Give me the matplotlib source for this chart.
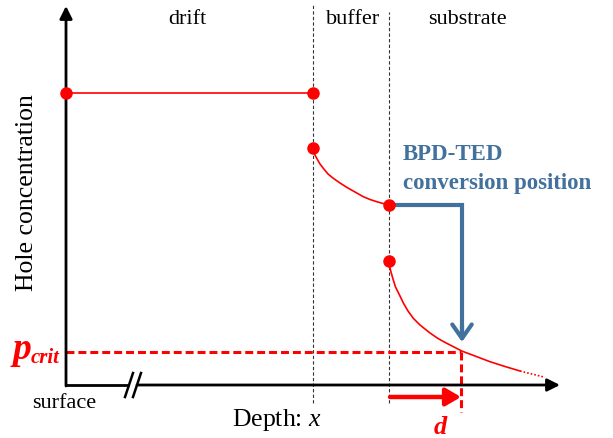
import numpy as np
import matplotlib
matplotlib.use("Agg")
import matplotlib.pyplot as plt

# =========================
# 1. DATA (schematic units: depth / hole concentration)
# =========================
drift_x = [0, 247]
drift_y = [292, 292]

buffer_x = [247, 248.5, 250.7, 254, 257.3, 262, 267.3, 274, 280.7, 289,
            297.3, 304, 310.7, 317, 323]
buffer_y = [237, 231, 226.7, 221, 216.7, 211, 206.7, 202, 197.7, 193,
            188.3, 185.5, 183.3, 181.5, 180]

sub_x = [323, 323.5, 325, 327, 329.5, 333.5, 337.5, 342, 347.3, 354, 364,
         372, 380.7, 389, 395.7, 409, 424, 439, 454]
sub_y = [124, 119, 113, 106, 98, 90, 81.7, 74, 66.7, 60, 52,
         46.5, 41.7, 37.5, 34, 29, 23.3, 18.5, 14]
sub_tail_x = [454, 479]
sub_tail_y = [14, 7.7]

dot_x = [0, 247, 247, 323, 323]
dot_y = [292, 292, 237, 180, 124]

boundaries = [247, 323]
region_names = ["drift", "buffer", "substrate"]
region_x = [121, 287, 401]

p_crit = 33
d_depth = 395
conversion_x = 323
conversion_y = 180

# =========================
# 2. FIGURE
# =========================
plt.rcParams['font.family'] = ['Liberation Serif', 'DejaVu Serif']
plt.rcParams['mathtext.fontset'] = 'custom'
plt.rcParams['mathtext.rm'] = 'Liberation Serif'
plt.rcParams['mathtext.it'] = 'Liberation Serif:italic'

fig = plt.figure(figsize=(6.13, 4.38), dpi=100)
ax = fig.add_axes([0, 0, 1, 1])
ax.set_xlim(-66, 547)
ax.set_ylim(-53, 385)
ax.axis('off')

red = '#FF0000'
blue = '#41719C'

# axes with arrows
ax.annotate('', xy=(0, 379), xytext=(0, -1),
            arrowprops=dict(arrowstyle='-|>,head_length=0.5,head_width=0.25',
                            color='black', lw=2, mutation_scale=15,
                            shrinkA=0, shrinkB=0))
ax.plot([-1, 63], [0, 0], color='black', lw=2, solid_capstyle='butt')
ax.annotate('', xy=(494, 0), xytext=(71, 0),
            arrowprops=dict(arrowstyle='-|>,head_length=0.5,head_width=0.25',
                            color='black', lw=2, mutation_scale=15,
                            shrinkA=0, shrinkB=0))
# axis break
for bx in [63, 71]:
    ax.plot([bx - 4, bx + 4], [-12, 12], color='black', lw=1.8)

# region boundaries
ax.plot([boundaries[0]] * 2, [-18, 380], color='#333333', lw=0.8, dashes=(3, 2))
ax.plot([boundaries[1]] * 2, [-18, 373], color='#333333', lw=0.8, dashes=(3, 2))

for name, rx in zip(region_names, region_x):
    ax.text(rx, 366, name, fontsize=16, ha='center', va='center')

# =========================
# 3. HOLE CONCENTRATION PROFILE
# =========================
ax.plot(drift_x, drift_y, color=red, lw=1.2)
ax.plot(buffer_x, buffer_y, color=red, lw=1.2)
ax.plot(sub_x, sub_y, color=red, lw=1.2)
ax.plot(sub_tail_x, sub_tail_y, color=red, lw=1.2, dashes=(1, 1.2))
ax.plot(dot_x, dot_y, 'o', color=red, markersize=8, zorder=5)

# p_crit and d
ax.plot([0, d_depth], [p_crit, p_crit], color=red, lw=2.2, dashes=(2.6, 1.3))
ax.plot([d_depth, d_depth], [p_crit, -27], color=red, lw=2.2, dashes=(2.6, 1.3))
ax.annotate('', xy=(d_depth, -12), xytext=(boundaries[1] + 1, -12),
            arrowprops=dict(arrowstyle='-|>,head_length=0.6,head_width=0.35',
                            color=red, lw=3.2, mutation_scale=15,
                            shrinkA=0, shrinkB=0))

ax.text(-35, 26, 'p', fontsize=27, color=red, fontweight='bold',
        fontstyle='italic', ha='right', va='baseline')
ax.text(-6, 22, 'crit', fontsize=15, color=red, fontweight='bold',
        fontstyle='italic', ha='right', va='baseline')
ax.text(374, -42, 'd', fontsize=19, color=red, fontweight='bold',
        fontstyle='italic', ha='center', va='center')

# =========================
# 4. BPD-TED CONVERSION ARROW
# =========================
ax.plot([conversion_x, d_depth + 1, d_depth + 1], [conversion_y, conversion_y, 50],
        color=blue, lw=3, solid_joinstyle='miter', solid_capstyle='butt', zorder=4)
ax.annotate('', xy=(d_depth + 1, 43), xytext=(d_depth + 1, 60),
            arrowprops=dict(arrowstyle='->,head_length=0.5,head_width=0.35',
                            color=blue, lw=3, mutation_scale=20,
                            shrinkA=0, shrinkB=0))
ax.text(337, 230, 'BPD-TED', fontsize=16.5, color=blue, fontweight='bold',
        ha='left', va='center')
ax.text(337, 202, 'conversion position', fontsize=16.5, color=blue,
        fontweight='bold', ha='left', va='center')

# =========================
# 5. LABELS
# =========================
ax.text(-39, 192, 'Hole concentration', fontsize=18.5, rotation=90,
        ha='center', va='center')
ax.text(-2, -18, 'surface', fontsize=16, ha='center', va='center')
ax.text(211, -35, 'Depth: $\\mathit{x}$', fontsize=18.5, ha='center', va='center')

fig.savefig('out.png', dpi=100)
